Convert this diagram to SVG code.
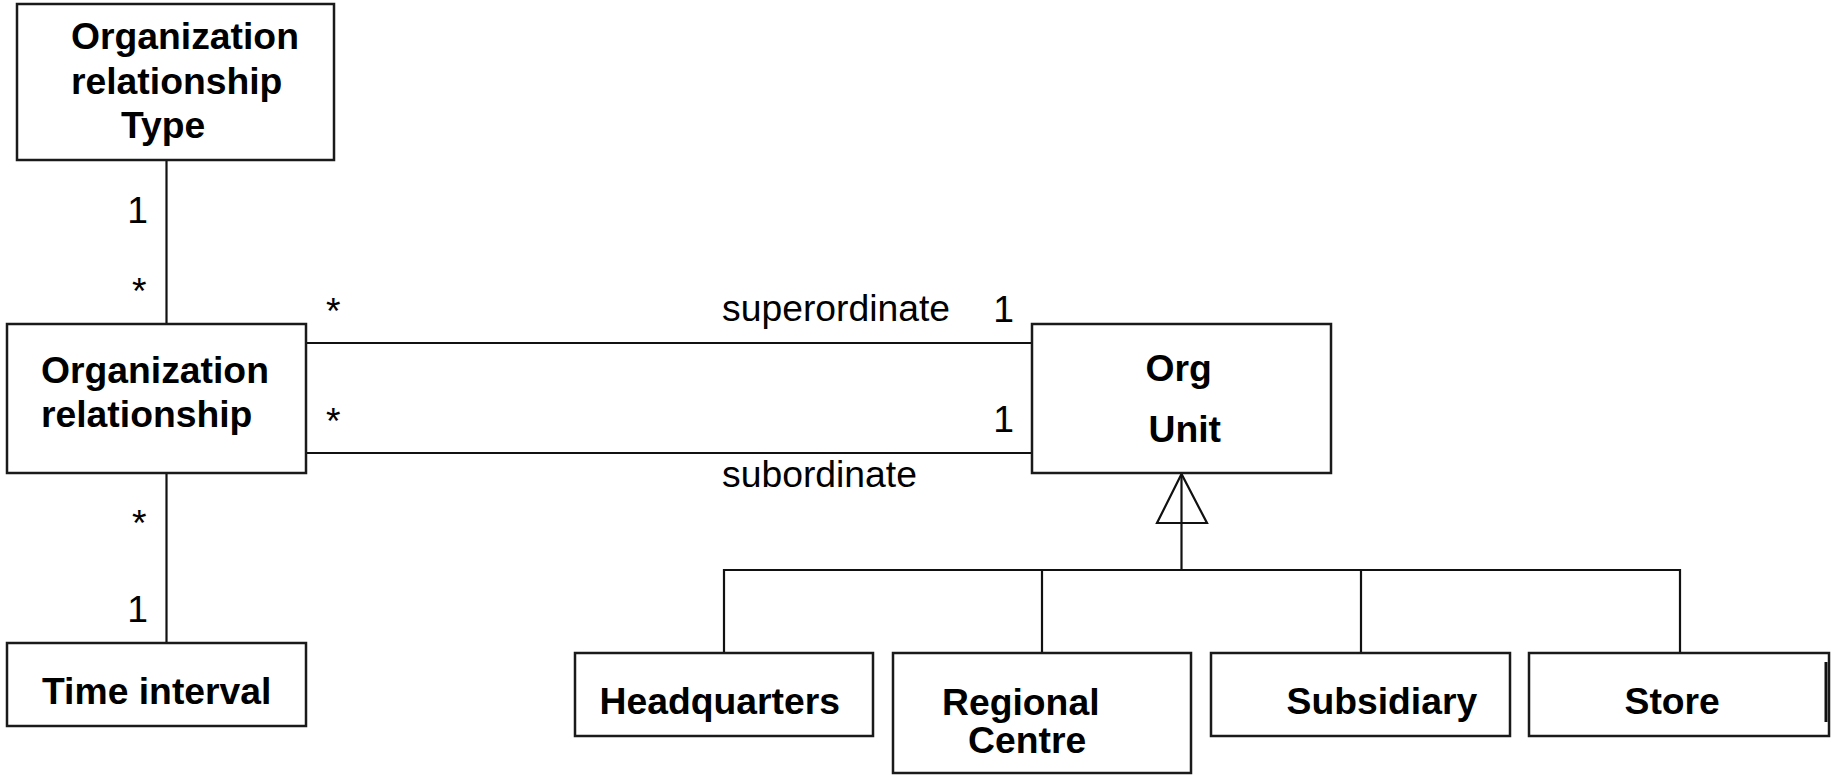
<svg xmlns="http://www.w3.org/2000/svg" width="1836" height="778" viewBox="0 0 1836 778">
  <style>
    .box { fill: #ffffff; stroke: #1a1a1a; stroke-width: 2.5; }
    .line { fill: none; stroke: #111111; stroke-width: 2.2; }
    .name { font-family: "Liberation Sans", Arial, sans-serif; font-weight: bold; font-size: 37.3px; fill: #000000; }
    .lbl { font-family: "Liberation Sans", Arial, sans-serif; font-size: 37.3px; fill: #000000; }
  </style>
  <rect width="1836" height="778" fill="#ffffff"/>

  <!-- associations and generalization -->
  <g id="connectors">
    <line class="line" x1="166.5" y1="160" x2="166.5" y2="323"/>
    <line class="line" x1="166.5" y1="473" x2="166.5" y2="643"/>
    <line class="line" x1="306" y1="343" x2="1032" y2="343"/>
    <line class="line" x1="306" y1="453" x2="1032" y2="453"/>
    <polygon class="line" points="1181.5,474 1157,523 1207,523" fill="#ffffff"/>
    <line class="line" x1="1181.5" y1="474" x2="1181.5" y2="570"/>
    <polyline class="line" points="724,652 724,570 1680,570 1680,652"/>
    <line class="line" x1="1042" y1="570" x2="1042" y2="652"/>
    <line class="line" x1="1361" y1="570" x2="1361" y2="652"/>

    <text class="lbl" x="148" y="223" text-anchor="end">1</text>
    <text class="lbl" x="132" y="304">*</text>
    <text class="lbl" x="326" y="324">*</text>
    <text class="lbl" x="326" y="434">*</text>
    <text class="lbl" x="132" y="536">*</text>
    <text class="lbl" x="148" y="622" text-anchor="end">1</text>
    <text class="lbl" x="722" y="321">superordinate</text>
    <text class="lbl" x="722" y="487">subordinate</text>
    <text class="lbl" x="1014" y="322" text-anchor="end">1</text>
    <text class="lbl" x="1014" y="432" text-anchor="end">1</text>
  </g>

  <g id="org-relationship-type">
    <rect class="box" x="17" y="4" width="317" height="156"/>
    <text class="name" x="71" y="49">Organization</text>
    <text class="name" x="71" y="94">relationship</text>
    <text class="name" x="121" y="138">Type</text>
  </g>

  <g id="org-relationship">
    <rect class="box" x="7" y="324" width="299" height="149"/>
    <text class="name" x="41" y="383">Organization</text>
    <text class="name" x="41" y="427">relationship</text>
  </g>

  <g id="time-interval">
    <rect class="box" x="7" y="643" width="299" height="83"/>
    <text class="name" x="42" y="704">Time interval</text>
  </g>

  <g id="org-unit">
    <rect class="box" x="1032" y="324" width="299" height="149"/>
    <text class="name" x="1145.5" y="381">Org</text>
    <text class="name" x="1148.5" y="442">Unit</text>
  </g>

  <g id="headquarters">
    <rect class="box" x="575" y="653" width="298" height="83"/>
    <text class="name" x="599.5" y="714">Headquarters</text>
  </g>

  <g id="regional-centre">
    <rect class="box" x="893" y="653" width="298" height="120"/>
    <text class="name" x="942" y="715">Regional</text>
    <text class="name" x="968" y="753">Centre</text>
  </g>

  <g id="subsidiary">
    <rect class="box" x="1211" y="653" width="299" height="83"/>
    <text class="name" x="1286.5" y="714">Subsidiary</text>
  </g>

  <g id="store">
    <rect class="box" x="1529" y="653" width="300" height="83"/>
    <line x1="1826" y1="662" x2="1826" y2="722" stroke="#111111" stroke-width="3"/>
    <text class="name" x="1624.5" y="714">Store</text>
  </g>
</svg>
